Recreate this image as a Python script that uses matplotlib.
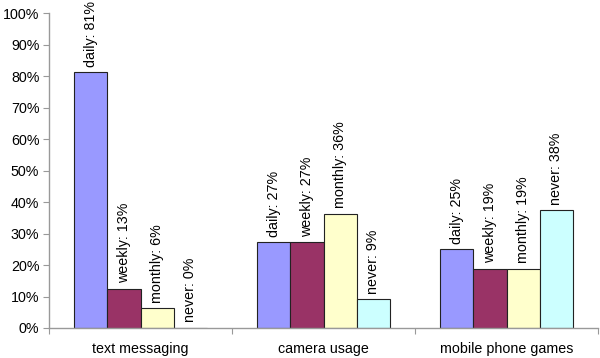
import numpy as np
import matplotlib.pyplot as plt
from matplotlib.ticker import FixedLocator, FuncFormatter

plt.rcParams['font.family'] = ['Liberation Sans', 'DejaVu Sans']

categories = ['text messaging', 'camera usage', 'mobile phone games']
series = ['daily', 'weekly', 'monthly', 'never']
colors = ['#9999FF', '#993366', '#FFFFCC', '#CCFFFF']

# bar heights (percent) and the rounded labels shown on them
values = {
    'daily': [81.25, 27.27, 25.0],
    'weekly': [12.5, 27.27, 18.75],
    'monthly': [6.25, 36.36, 18.75],
    'never': [0.0, 9.09, 37.5],
}
labels = {
    'daily': ['81%', '27%', '25%'],
    'weekly': ['13%', '27%', '19%'],
    'monthly': ['6%', '36%', '19%'],
    'never': ['0%', '9%', '38%'],
}

fig = plt.figure(figsize=(6, 3.58), dpi=100)
ax = fig.add_axes([0.0817, 0.0838, 0.915, 0.8785])

width = 0.182
centers = np.arange(len(categories)) + 0.5
for i, (name, col) in enumerate(zip(series, colors)):
    xs = centers + (i - 1.5) * width
    bars = ax.bar(xs, values[name], width, color=col, edgecolor='#222222', linewidth=0.8)
    for b, lab in zip(bars, labels[name]):
        ax.annotate(f'{name}: {lab}', (b.get_x() + b.get_width() / 2, b.get_height()),
                    xytext=(0, 4), textcoords='offset points', rotation=90,
                    ha='center', va='bottom', fontsize=10.3)

ax.set_xlim(0, 3)
ax.set_ylim(0, 100)
ax.set_yticks(np.arange(0, 101, 10))
ax.yaxis.set_major_formatter(FuncFormatter(lambda v, p: f'{int(v)}%'))
ax.xaxis.set_major_locator(FixedLocator([0, 1, 2, 3]))
ax.xaxis.set_major_formatter(FuncFormatter(lambda v, p: ''))
ax.xaxis.set_minor_locator(FixedLocator(centers))
ax.set_xticklabels(categories, minor=True)
ax.tick_params(axis='x', which='minor', length=0, pad=10, labelsize=10.3)
ax.tick_params(axis='x', which='major', length=4, color='#999999', direction='out')
ax.tick_params(axis='y', length=4, color='#999999', labelsize=10.3, pad=3)

for s in ['top', 'right']:
    ax.spines[s].set_visible(False)
for s in ['left', 'bottom']:
    ax.spines[s].set_color('#999999')
    ax.spines[s].set_linewidth(1)

fig.savefig('out.png', dpi=100)
